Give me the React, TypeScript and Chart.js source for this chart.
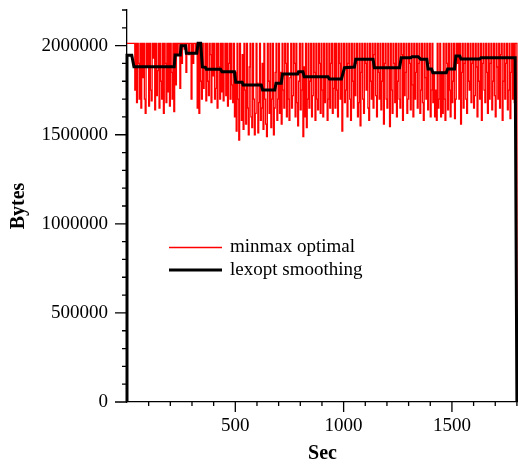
import React, { useEffect, useRef } from "react";
import { Chart, registerables } from "chart.js";

Chart.register(...registerables);

const FONT = "'Liberation Serif', 'Times New Roman', Times, serif";

// top level of the minmax optimal series (bytes)
const T = 2013e3;

// minmax optimal: one sample every 4 seconds (bytes), last sample drops to 0 at 1800 s
const MINMAX_INTERVAL = 4;
const minmaxValues = [
  T, T, T, T, T, T, T, T, T,
  1750e3, T, 1680e3, T, 1900e3, 1700e3, T, 1650e3, T, 1820e3, T, 1700e3, 1620e3, T, 1880e3, T,
  1660e3, T, 1750e3, 1690e3, T, 1930e3, T, 1640e3, T, 1720e3, 1860e3, T, 1650e3, T, 1800e3, 1700e3,
  T, 1620e3, T, 1900e3, 1680e3, T, 1740e3, T, 1660e3, T, 1850e3, 1700e3, T, 1630e3, T, 1780e3,
  T, 1950e3, T, T, 1760e3, T, 1900e3, T, T, 1980e3, T, 1850e3, T, T, 1950e3, T, T, 1700e3, T,
  1900e3, T, T, 1960e3, T, 1650e3, T, 1620e3, T, 1800e3,
  1700e3, T, 1760e3, 1880e3, T, 1690e3, T, 1800e3, 1720e3, T, 1950e3, 1680e3, T, 1830e3, T, 1700e3,
  1760e3, T, 1650e3, T, 1880e3, 1700e3, T, 1740e3, T, 1690e3, 1850e3, T, 1720e3, T, 1660e3, 1900e3,
  T, 1700e3, T, 1780e3, 1680e3, T,
  1600e3, 1850e3, 1520e3, T, 1700e3, 1470e3, T, 1800e3, 1580e3, 1950e3, 1530e3, T, 1750e3, 1560e3,
  T, 1650e3, 1500e3, 1880e3, T, 1600e3, 1540e3, T, 1700e3, 1500e3, 1620e3, T, 1790e3, 1510e3, 1680e3,
  T, 1580e3, 1650e3, 1900e3, 1530e3, T, 1700e3, 1560e3, 1490e3, T, 1800e3, 1620e3, T, 1540e3, 1700e3,
  T, 1500e3, 1650e3, 1850e3, T, 1580e3, 1700e3,
  T, 1620e3, 1850e3, 1560e3, T, 1750e3, 1650e3, T, 1900e3, 1600e3, T, 1700e3, 1580e3, 1820e3, T,
  1650e3, 1720e3, T, 1900e3, 1600e3, T, 1680e3, 1550e3, 1800e3, T, 1640e3, 1750e3, T, 1490e3, 1880e3,
  1600e3, T, 1540e3, 1700e3, T, 1650e3, 1800e3, T, 1600e3, 1720e3, T, 1850e3, 1580e3, T, 1700e3,
  1640e3, T, 1900e3, 1620e3, T, 1750e3, 1600e3, T, 1680e3, 1820e3, T, 1580e3, 1700e3, T, 1650e3,
  1900e3, T, 1620e3, 1760e3, T,
  1650e3, T, 1750e3, 1600e3, T, 1900e3, 1700e3, T, 1520e3, 1850e3,
  T, 1680e3, 1750e3, T, 1600e3, 1900e3, T, 1700e3, 1580e3, T,
  1800e3, 1650e3, T, 1720e3, 1900e3, T, 1600e3, 1680e3, T, 1550e3,
  1850e3, T, 1700e3, 1620e3, T, 1900e3, 1750e3, T, 1650e3, 1580e3,
  T, 1800e3, 1700e3, T, 1650e3, 1950e3, T, 1720e3, 1600e3, T,
  1850e3, 1700e3, T, 1640e3, 1800e3, T, 1560e3, 1900e3, T, 1700e3,
  1650e3, T, 1880e3, 1545e3, T, 1750e3, 1620e3, T, 1900e3, 1680e3,
  T, 1600e3, 1800e3, T, 1700e3, 1650e3, T, 1950e3, 1580e3, T,
  1720e3, 1850e3, T, 1620e3, 1700e3, T, 1900e3, 1640e3, T, 1780e3,
  1600e3, T, 1700e3, 1850e3, T, 1650e3, 1900e3, T, 1620e3, 1750e3,
  T, 1680e3, 1580e3, T, 1820e3, 1700e3, T, 1640e3, 1900e3, T,
  1600e3, 1750e3, T, 1680e3, 1850e3,
  1600e3, 1750e3, 1580e3, T, 1650e3, 1700e3, T, 1600e3, 1850e3, 1620e3,
  T, 1700e3, 1580e3, T, 1900e3, 1640e3, T, 1750e3, 1600e3, T,
  1680e3, 1800e3, T, 1590e3, 1700e3, T, 1900e3, T,
  1700e3, T, 1560e3, 1850e3, T, 1650e3, 1900e3, T, 1700e3, 1620e3,
  T, 1800e3, 1750e3, T, 1680e3, 1900e3, T, 1650e3, 1720e3, T,
  1880e3, 1600e3, T, 1800e3, 1700e3, T, 1580e3, 1900e3, T, 1750e3,
  1680e3, T, 1850e3, 1620e3, T, 1700e3, 1900e3, T, 1640e3, 1800e3,
  T, 1720e3, 1600e3, T, 1880e3, 1700e3, T, 1650e3, 1950e3, T,
  1580e3, 1800e3, T, 1700e3, 1900e3, T, 1640e3, 1750e3, T, 1590e3,
  1850e3, T, 1700e3, T, 1680e3, T,
  T, 0,
];

// lexopt smoothing: corner points (seconds, bytes)
const lexoptTimes = [
  0, 0, 22, 32, 218, 222, 246, 250, 270, 274, 322, 328, 340, 348, 362, 366, 432, 438, 496, 502,
  532, 536, 620, 626, 682, 688, 712, 718, 788, 792, 812, 818, 928, 934, 990, 1004, 1050, 1056,
  1136, 1142, 1258, 1266, 1310, 1316, 1344, 1356, 1384, 1390, 1406, 1412, 1474, 1480, 1512, 1518,
  1536, 1542, 1628, 1634, 1792, 1800,
];
const lexoptValues = [
  0, 1946e3, 1946e3, 1882e3, 1882e3, 1948e3, 1948e3, 2000e3, 2000e3, 1957e3, 1957e3, 2013e3,
  2013e3, 1880e3, 1878e3, 1868e3, 1868e3, 1854e3, 1854e3, 1794e3, 1794e3, 1779e3, 1779e3, 1751e3,
  1751e3, 1789e3, 1789e3, 1841e3, 1841e3, 1854e3, 1854e3, 1826e3, 1826e3, 1813e3, 1813e3, 1876e3,
  1880e3, 1923e3, 1923e3, 1876e3, 1876e3, 1932e3, 1932e3, 1938e3, 1938e3, 1923e3, 1923e3, 1869e3,
  1869e3, 1848e3, 1848e3, 1869e3, 1869e3, 1942e3, 1942e3, 1925e3, 1925e3, 1932e3, 1932e3, 0,
];

const xTickLabels = [500, 1000, 1500];
const yTickLabels = [0, 500000, 1000000, 1500000, 2000000];
const seriesNames = ["minmax optimal", "lexopt smoothing"];

const axisTicksPlugin = {
  id: "axisTicks",
  afterDraw(chart: any) {
    const ctx = chart.ctx;
    const xs = chart.scales.x;
    const ys = chart.scales.y;
    const { left, bottom } = chart.chartArea;
    ctx.save();
    ctx.strokeStyle = "#000";
    ctx.lineWidth = 1.3;
    ctx.beginPath();
    for (let v = 100; v <= 1800; v += 100) {
      const px = xs.getPixelForValue(v);
      const len = v % 500 === 0 ? 10 : 4;
      ctx.moveTo(px, bottom);
      ctx.lineTo(px, bottom + len);
    }
    for (let v = 0; v <= 2200000; v += 100000) {
      const py = ys.getPixelForValue(v);
      const len = v % 500000 === 0 ? 12 : 5;
      ctx.moveTo(left, py);
      ctx.lineTo(left - len, py);
    }
    ctx.stroke();

    ctx.fillStyle = "#000";
    ctx.font = `19px ${FONT}`;
    ctx.textBaseline = "middle";
    ctx.textAlign = "center";
    xTickLabels.forEach((v) => {
      ctx.fillText(String(v), xs.getPixelForValue(v), bottom + 24);
    });
    ctx.textAlign = "right";
    yTickLabels.forEach((v) => {
      ctx.fillText(String(v), left - 19, ys.getPixelForValue(v));
    });
    ctx.restore();
  },
};

const legendPlugin = {
  id: "customLegend",
  afterDraw(chart: any) {
    const ctx = chart.ctx;
    const items = [
      { color: "#ff0000", width: 1.3, y: 247.5 },
      { color: "#000000", width: 3, y: 270 },
    ];
    ctx.save();
    ctx.font = `19px ${FONT}`;
    ctx.textBaseline = "middle";
    ctx.textAlign = "left";
    items.forEach((it, i) => {
      ctx.strokeStyle = it.color;
      ctx.lineWidth = it.width;
      ctx.beginPath();
      ctx.moveTo(169, it.y);
      ctx.lineTo(222, it.y);
      ctx.stroke();
      ctx.fillStyle = "#000";
      ctx.fillText(seriesNames[i], 230, it.y);
    });
    ctx.restore();
  },
};

export default function App() {
  const canvasRef = useRef<HTMLCanvasElement | null>(null);

  useEffect(() => {
    if (!canvasRef.current) return;
    const minmaxData = minmaxValues.map((v, i) => ({ x: i * MINMAX_INTERVAL, y: v }));
    const lexoptData = lexoptTimes.map((t, i) => ({ x: t, y: lexoptValues[i] }));

    const chart = new Chart(canvasRef.current, {
      type: "line",
      data: {
        datasets: [
          {
            label: seriesNames[0],
            data: minmaxData,
            borderColor: "#ff0000",
            borderWidth: 1.3,
            stepped: true,
            pointRadius: 0,
            fill: false,
            order: 2,
            clip: 4,
          },
          {
            label: seriesNames[1],
            data: lexoptData,
            borderColor: "#000000",
            borderWidth: 3,
            pointRadius: 0,
            fill: false,
            tension: 0,
            order: 1,
            clip: 4,
          },
        ],
      },
      options: {
        animation: false,
        responsive: false,
        devicePixelRatio: 1,
        parsing: false,
        layout: { padding: { top: 10, right: 0, left: 0, bottom: 0 } },
        plugins: {
          legend: { display: false },
          tooltip: { enabled: false },
        },
        scales: {
          x: {
            type: "linear",
            min: 0,
            max: 1805,
            afterFit(s: any) {
              s.height = 62;
            },
            grid: { display: false },
            border: { display: true, color: "#000", width: 1.3 },
            ticks: { display: false },
            title: {
              display: true,
              text: "Sec",
              color: "#000",
              font: { family: FONT, size: 20, weight: "bold", lineHeight: 1 },
              padding: { top: 0, bottom: 0 },
            },
          },
          y: {
            type: "linear",
            min: 0,
            max: 2200000,
            afterFit(s: any) {
              s.width = 127;
            },
            grid: { display: false },
            border: { display: true, color: "#000", width: 1.3 },
            ticks: { display: false },
            title: {
              display: true,
              text: "Bytes",
              color: "#000",
              font: { family: FONT, size: 20, weight: "bold", lineHeight: 1 },
              padding: { top: 9, bottom: 0 },
            },
          },
        },
      },
      plugins: [axisTicksPlugin, legendPlugin],
    } as any);

    return () => chart.destroy();
  }, []);

  return (
    <div style={{ position: "fixed", left: 0, top: 0, width: 518, height: 464, background: "#fff" }}>
      <canvas ref={canvasRef} width={518} height={464} style={{ display: "block" }} />
    </div>
  );
}
